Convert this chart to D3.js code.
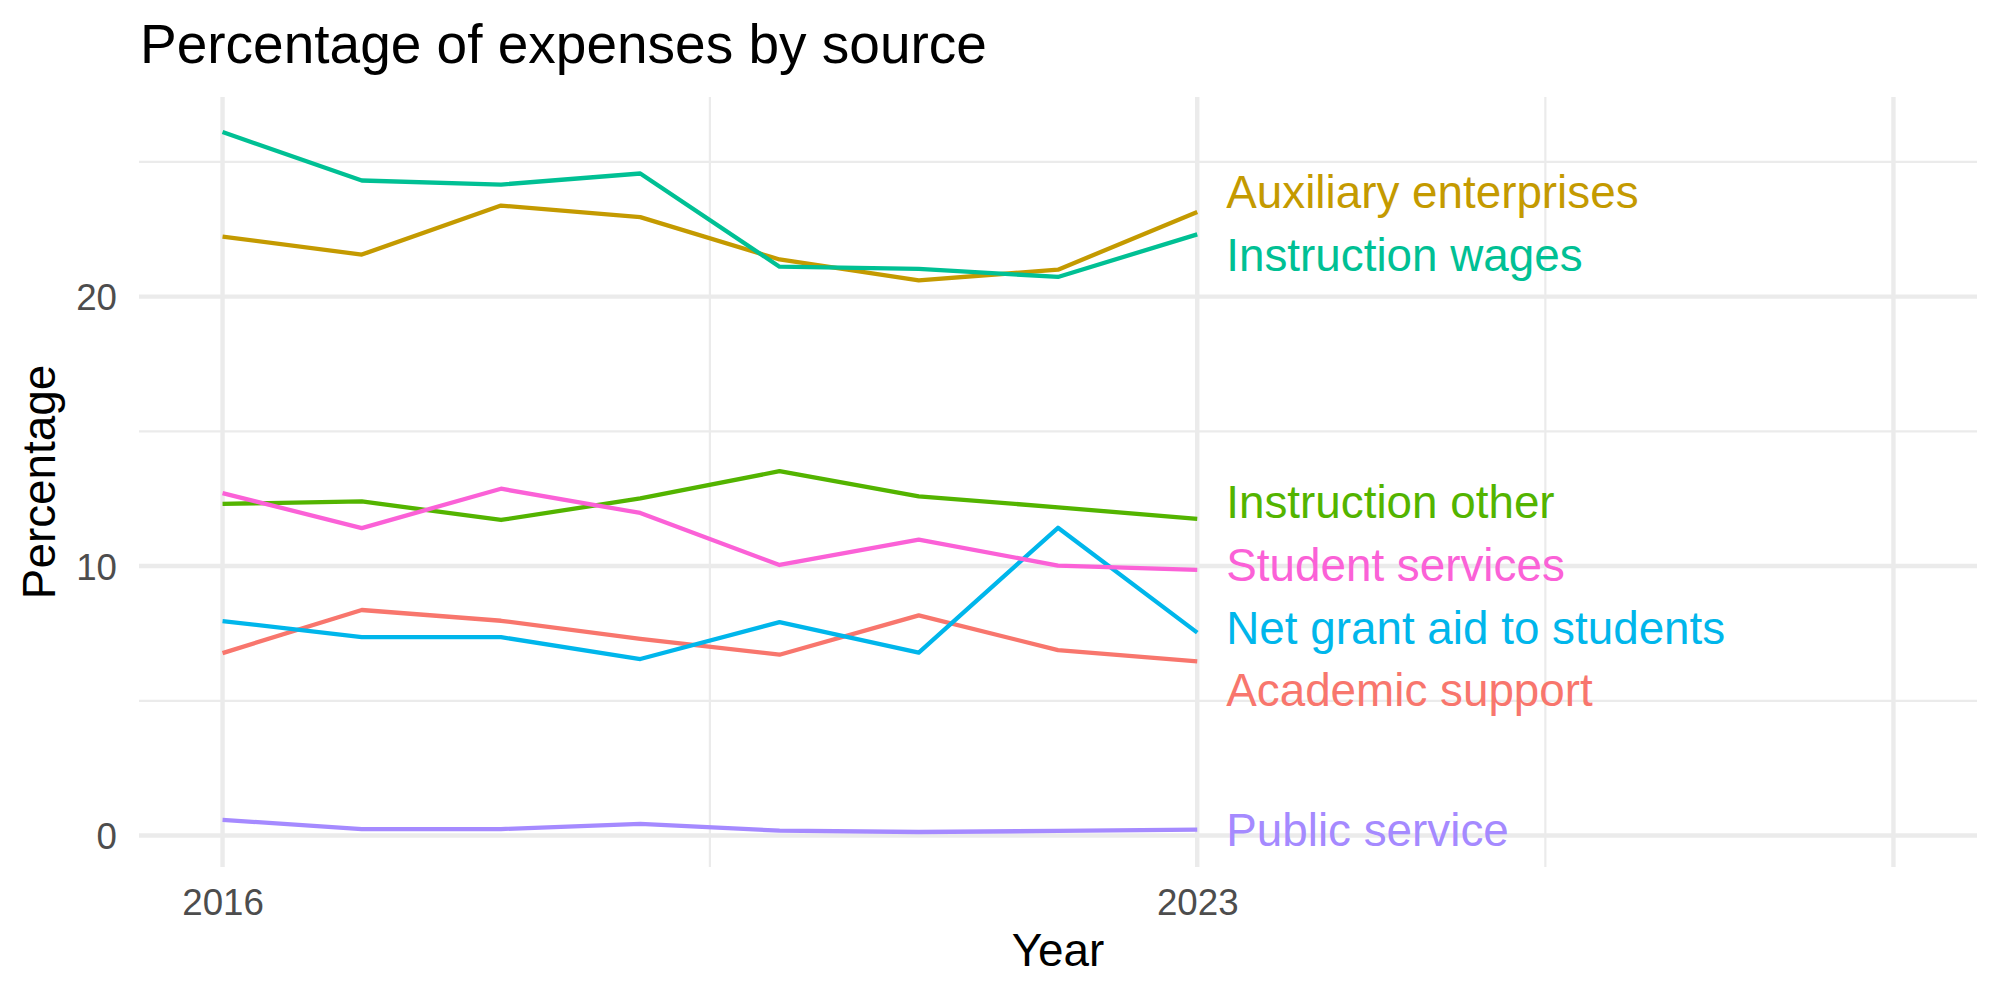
<!DOCTYPE html>
<html>
<head>
<meta charset="utf-8">
<script src="https://cdn.jsdelivr.net/npm/d3@7"></script>
<style>
  body { margin: 0; background: #fff; }
  text { font-family: "Liberation Sans", Arial, Helvetica, sans-serif; }
</style>
</head>
<body>
<svg id="chart" width="2000" height="1000"></svg>
<script>
// data
var years = [2016, 2017, 2018, 2019, 2020, 2021, 2022, 2023];
var sources = ["Academic support", "Auxiliary enterprises", "Instruction other",
  "Instruction wages", "Net grant aid to students", "Public service", "Student services"];
var academicSupport = [6.77, 8.37, 7.97, 7.30, 6.71, 8.17, 6.88, 6.46];
var auxiliaryEnterprises = [22.23, 21.56, 23.38, 22.95, 21.38, 20.60, 21.00, 23.14];
var instructionOther = [12.31, 12.40, 11.71, 12.51, 13.52, 12.59, 12.18, 11.75];
var instructionWages = [26.11, 24.31, 24.16, 24.57, 21.11, 21.03, 20.73, 22.31];
var netGrantAid = [7.96, 7.36, 7.36, 6.55, 7.92, 6.79, 11.42, 7.53];
var publicService = [0.58, 0.24, 0.24, 0.43, 0.18, 0.13, 0.17, 0.22];
var studentServices = [12.71, 11.41, 12.87, 11.97, 10.04, 10.98, 10.02, 9.86];
var xLimits = [2016, 2028];
var xBreaks = [2016, 2023, 2028];
var xLabels = ["2016", "2023", ""];
var xMinor = [2019.5, 2025.5];
var yBreaks = [0, 10, 20];
var yMinor = [5, 15, 25];

var values = [academicSupport, auxiliaryEnterprises, instructionOther,
  instructionWages, netGrantAid, publicService, studentServices];
var colors = ["#F8766D", "#C49A00", "#53B400", "#00C094", "#00B6EB", "#A58AFF", "#FB61D7"];

var series = sources.map(function(name, i) {
  return {
    name: name,
    color: colors[i],
    points: years.map(function(yr, j) { return {year: yr, value: values[i][j]}; })
  };
});

var panel = {left: 139, right: 1977, top: 97, bottom: 867};

var svg = d3.select("#chart");

// ggplot style 5% expansion
function expand(ext) {
  var r = ext[1] - ext[0];
  return [ext[0] - 0.05 * r, ext[1] + 0.05 * r];
}

var allVals = d3.merge(values);
var x = d3.scaleLinear().domain(expand(xLimits)).range([panel.left, panel.right]);
var y = d3.scaleLinear().domain(expand(d3.extent(allVals))).range([panel.bottom, panel.top]);

var grid = svg.append("g");
// minor grid
grid.selectAll(".ymin").data(yMinor).enter().append("line")
  .attr("x1", panel.left).attr("x2", panel.right)
  .attr("y1", function(d) { return y(d); }).attr("y2", function(d) { return y(d); })
  .attr("stroke", "#EBEBEB").attr("stroke-width", 2.2);
grid.selectAll(".xmin").data(xMinor).enter().append("line")
  .attr("y1", panel.top).attr("y2", panel.bottom)
  .attr("x1", function(d) { return x(d); }).attr("x2", function(d) { return x(d); })
  .attr("stroke", "#EBEBEB").attr("stroke-width", 2.2);
// major grid
grid.selectAll(".ymaj").data(yBreaks).enter().append("line")
  .attr("x1", panel.left).attr("x2", panel.right)
  .attr("y1", function(d) { return y(d); }).attr("y2", function(d) { return y(d); })
  .attr("stroke", "#EBEBEB").attr("stroke-width", 4.4);
grid.selectAll(".xmaj").data(xBreaks).enter().append("line")
  .attr("y1", panel.top).attr("y2", panel.bottom)
  .attr("x1", function(d) { return x(d); }).attr("x2", function(d) { return x(d); })
  .attr("stroke", "#EBEBEB").attr("stroke-width", 4.4);

// axes (ticks hidden like theme_minimal)
var xAxis = svg.append("g")
  .attr("transform", "translate(0," + panel.bottom + ")")
  .call(d3.axisBottom(x).tickValues(xBreaks)
    .tickFormat(function(d, i) { return xLabels[i]; })
    .tickSize(0).tickPadding(22));
var yAxis = svg.append("g")
  .attr("transform", "translate(" + panel.left + ",0)")
  .call(d3.axisLeft(y).tickValues(yBreaks).tickSize(0).tickPadding(22));
[xAxis, yAxis].forEach(function(ax) {
  ax.select(".domain").remove();
  ax.selectAll("text")
    .style("font-family", "'Liberation Sans', Arial, Helvetica, sans-serif")
    .style("font-size", "36.7px")
    .attr("fill", "#4D4D4D");
});
xAxis.selectAll("text").attr("dy", "0.72em");
yAxis.selectAll("text").attr("dy", "0.36em");

var line = d3.line()
  .x(function(d) { return x(d.year); })
  .y(function(d) { return y(d.value); });

svg.append("g").selectAll("path")
  .data(series)
  .enter().append("path")
  .attr("fill", "none")
  .attr("stroke", function(d) { return d.color; })
  .attr("stroke-width", 4.3)
  .attr("stroke-linejoin", "round")
  .attr("d", function(d) { return line(d.points); });

// spread end labels so they don't overlap (simple cluster repel)
var labelGap = 62.8;
var labs = series.map(function(s) {
  var last = s.points[s.points.length - 1];
  return {name: s.name, color: s.color, want: y(last.value), x: x(last.year)};
}).sort(function(a, b) { return a.want - b.want; });

var clusters = labs.map(function(l) { return {items: [l]}; });
function place(c) {
  var mean = d3.mean(c.items, function(l) { return l.want; });
  var n = c.items.length;
  c.top = mean - (n - 1) * labelGap / 2;
  c.items.forEach(function(l, i) { l.y = c.top + i * labelGap; });
  c.bottom = c.top + (n - 1) * labelGap;
}
clusters.forEach(place);
var merged = true;
while (merged) {
  merged = false;
  for (var i = 0; i < clusters.length - 1; i++) {
    if (clusters[i + 1].top - clusters[i].bottom < labelGap) {
      clusters[i].items = clusters[i].items.concat(clusters[i + 1].items);
      clusters.splice(i + 1, 1);
      place(clusters[i]);
      merged = true;
      break;
    }
  }
}

svg.append("g").selectAll("text")
  .data(labs)
  .enter().append("text")
  .attr("x", function(d) { return d.x + 29; })
  .attr("y", function(d) { return d.y; })
  .attr("dy", "0.36em")
  .attr("fill", function(d) { return d.color; })
  .style("font-size", "45.8px")
  .text(function(d) { return d.name; });

// titles
svg.append("text")
  .attr("x", 140).attr("y", 63)
  .style("font-size", "55px")
  .attr("fill", "#000")
  .text("Percentage of expenses by source");

svg.append("text")
  .attr("x", (panel.left + panel.right) / 2).attr("y", 966)
  .attr("text-anchor", "middle")
  .style("font-size", "45.8px")
  .attr("fill", "#000")
  .text("Year");

svg.append("text")
  .attr("transform", "translate(55," + (panel.top + panel.bottom) / 2 + ") rotate(-90)")
  .attr("text-anchor", "middle")
  .style("font-size", "45.8px")
  .attr("fill", "#000")
  .text("Percentage");
</script>
</body>
</html>
